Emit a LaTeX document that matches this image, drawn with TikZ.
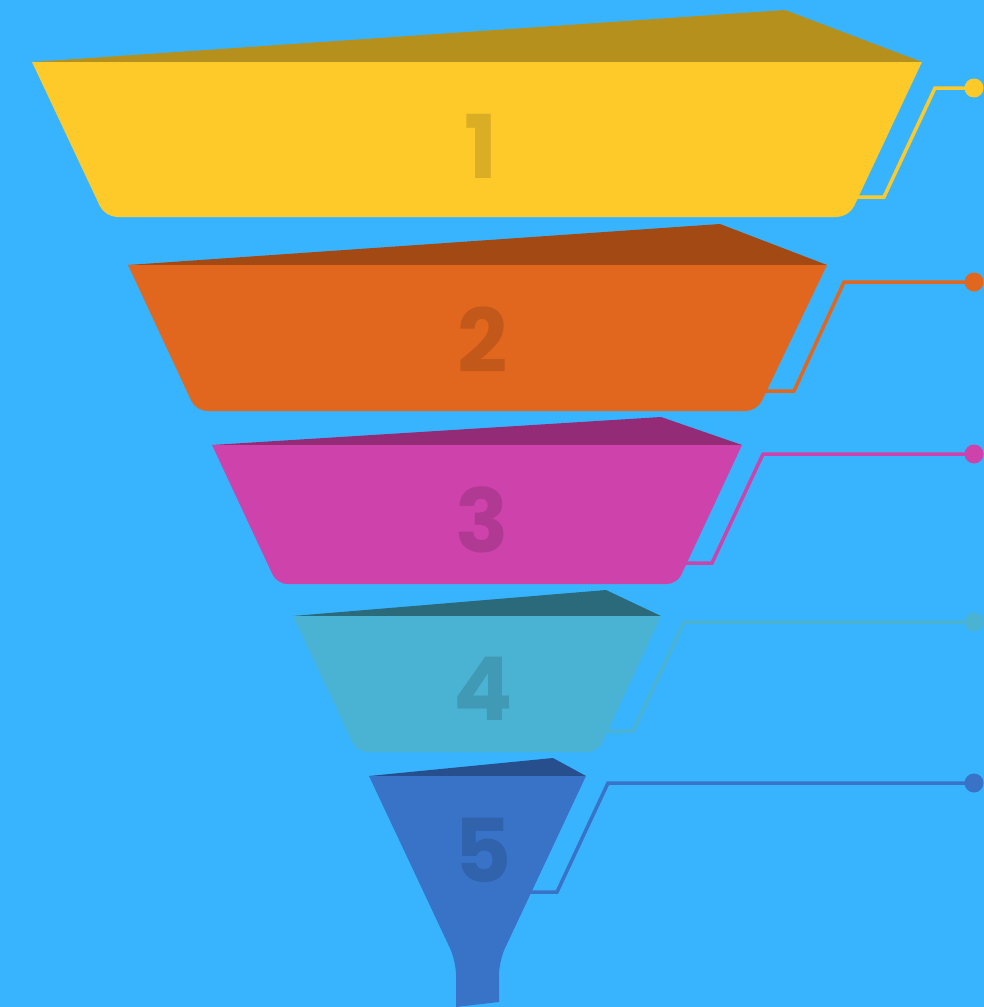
\documentclass[tikz,border=0pt]{standalone}
\usepackage{fontspec}
\newfontfamily\numfont{Poppins}
\definecolor{fond}{HTML}{38B4FE}
\definecolor{jaune}{HTML}{FDCA2A}
\definecolor{jauneF}{HTML}{B5901D}
\definecolor{orange}{HTML}{E2671E}
\definecolor{orangeF}{HTML}{A34A14}
\definecolor{rose}{HTML}{CD42AB}
\definecolor{roseF}{HTML}{932B77}
\definecolor{turq}{HTML}{4AB3D3}
\definecolor{turqF}{HTML}{2A6A7B}
\definecolor{bleu}{HTML}{3873C8}
\definecolor{bleuF}{HTML}{274F8E}
\tikzset{
	num/.style={font=\numfont\bfseries\fontsize{88}{88}\selectfont, anchor=base, inner sep=0pt, text=#1!86!black},
	pastille/.style={circle, fill=#1, inner sep=0pt, minimum size=19pt},
	lien/.style={draw=#1, line width=3.5pt}
}
\begin{document}
\begin{tikzpicture}[x=1pt,y=-1pt]
	\fill[fond] (0,0) rectangle (984,1007);
	\node (D1) at (974,88)  [pastille=jaune] {};
	\node (D2) at (974,282) [pastille=orange] {};
	\node (D3) at (974,454) [pastille=rose] {};
	\node (D4) at (974,622) [pastille=turq] {};
	\node (D5) at (974,783) [pastille=bleu] {};
	\draw[lien=jaune]  (850,197) coordinate (A1) -- (884,197) -- (935,88) -- (D1.center);
	\draw[lien=orange] (760,391) coordinate (A2) -- (794,391) -- (844,282) -- (D2.center);
	\draw[lien=rose]   (678,563) coordinate (A3) -- (712,563) -- (763,454) -- (D3.center);
	\draw[lien=turq]   (600,731) coordinate (A4) -- (633,731) -- (684,622) -- (D4.center);
	\draw[lien=bleu]   (522,892) coordinate (A5) -- (557,892) -- (608,783) -- (D5.center);
	\fill[jauneF] (32,62) -- (785,10) -- (922,62) -- cycle;
	\fill[jaune] (32,62) [rounded corners=12pt] -- (105,217) -- (849,217) [sharp corners] -- (922,62) -- cycle;
	\fill[orangeF] (128,265) -- (720,224) -- (827,265) -- cycle;
	\fill[orange] (128,265) [rounded corners=11pt] -- (196,411) -- (757,411) [sharp corners] -- (827,265) -- cycle;
	\fill[roseF] (212,445) -- (661,417) -- (742,445) -- cycle;
	\fill[rose] (212,445) [rounded corners=10pt] -- (277,584) -- (677,584) [sharp corners] -- (742,445) -- cycle;
	\fill[turqF] (293,616) -- (606,590) -- (661,616) -- cycle;
	\fill[turq] (293,616) [rounded corners=10pt] -- (357,752) -- (598,752) [sharp corners] -- (661,616) -- cycle;
	\fill[bleuF] (369,776) -- (553,758) -- (586,776) -- cycle;
	\fill[bleu] (369,776) [rounded corners=14pt] -- (456,961) [sharp corners] -- (456,1007) -- (499,1002) [rounded corners=14pt] -- (499,961) [sharp corners] -- (586,776) -- cycle;
	\node (N1) at (481,178) [num=jaune] {1};
	\node (N2) at (483,372) [num=orange] {2};
	\node (N3) at (482,552) [num=rose] {3};
	\node (N4) at (483,720) [num=turq] {4};
	\node (N5) at (483,882) [num=bleu] {5};
\end{tikzpicture}
\end{document}
